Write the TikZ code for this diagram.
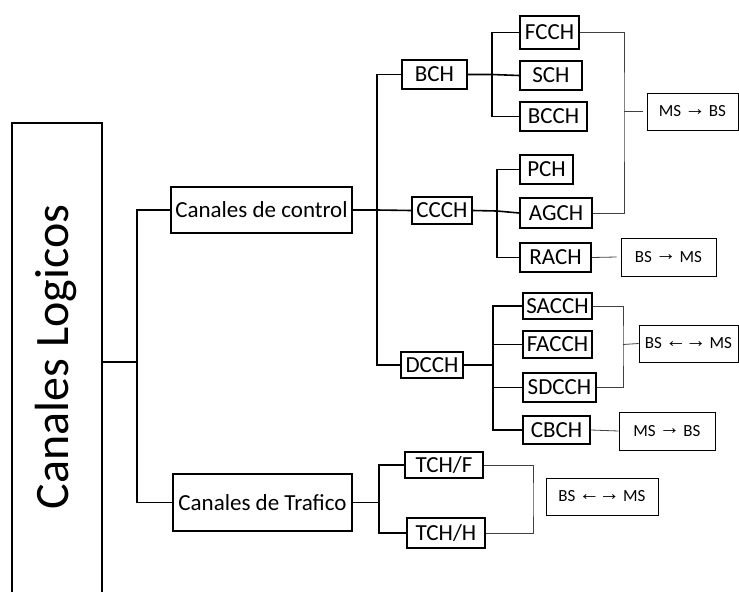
\documentclass[tikz,border=0pt]{standalone}
\usepackage{fontspec}
\setmainfont{Carlito}
\newfontfamily\arrowfont{Liberation Sans}
\newcommand{\rarr}{\kern-0.5pt\raisebox{1.5pt}{\arrowfont\bfseries\fontsize{21}{21}\selectfont\symbol{"2192}}\kern-0.5pt}
\newcommand{\larr}{\kern-0.5pt\raisebox{1.5pt}{\arrowfont\bfseries\fontsize{21}{21}\selectfont\symbol{"2190}}\kern-0.5pt}
\tikzset{
    chan/.style={draw, line width=1.6pt, inner sep=0pt, font=\fontsize{23}{25}\selectfont},
    info/.style={draw, line width=0.8pt, inner sep=0pt, font=\fontsize{17}{19}\selectfont},
    tree/.style={line width=1.6pt},
    brk/.style={line width=0.8pt, black!75},
}
\begin{document}
\begin{tikzpicture}[x=1pt, y=-1pt]
            \useasboundingbox (0, 0) rectangle (739, 592) ;
            % root
            \draw[tree] (+12, +592) |- (+102, +123) -- (+102, +592) ;
            \draw (+56, +357) node[rotate=90, font=\fontsize{48}{52}\selectfont](logicos){Canales Logicos} ;
            \coordinate (lg) at (+102, +362) ;
            % first level
            \draw (+261.5, +210) node[chan, minimum width=181pt, minimum height=46pt](control){Canales de control} ;
            \draw (+262.5, +502.5) node[chan, minimum width=179pt, minimum height=57pt](trafico){Canales de Trafico} ;
            % second level
            \draw (+434.5, +74.5) node[chan, minimum width=65pt, minimum height=29pt](bch){BCH} ;
            \draw (+442, +210.5) node[chan, minimum width=60pt, minimum height=27pt](ccch){CCCH} ;
            \draw (+432, +365) node[chan, minimum width=62pt, minimum height=26pt](dcch){DCCH} ;
            \draw (+444, +465) node[chan, minimum width=78pt, minimum height=26pt](tchf){TCH/F} ;
            \draw (+446, +533) node[chan, minimum width=78pt, minimum height=30pt](tchh){TCH/H} ;
            % third level
            \draw (+549.5, +32.5) node[chan, minimum width=59pt, minimum height=33pt](fcch){FCCH} ;
            \draw (+551, +75.5) node[chan, minimum width=62pt, minimum height=29pt](sch){SCH} ;
            \draw (+553.5, +116.5) node[chan, minimum width=67pt, minimum height=29pt](bcch){BCCH} ;
            \draw (+546.5, +169.5) node[chan, minimum width=53pt, minimum height=29pt](pch){PCH} ;
            \draw (+556, +213) node[chan, minimum width=72pt, minimum height=30pt](agch){AGCH} ;
            \draw (+555.5, +257.5) node[chan, minimum width=71pt, minimum height=29pt](rach){RACH} ;
            \draw (+557.5, +306) node[chan, minimum width=69pt, minimum height=26pt](sacch){SACCH} ;
            \draw (+557.5, +344.5) node[chan, minimum width=69pt, minimum height=27pt](facch){FACCH} ;
            \draw (+559.5, +387.5) node[chan, minimum width=73pt, minimum height=29pt](sdcch){SDCCH} ;
            \draw (+556.5, +430) node[chan, minimum width=67pt, minimum height=28pt](cbch){CBCH} ;
            % direction
            \draw (+692.5, +111.5) node[info, minimum width=91pt, minimum height=37pt](dirA){MS \rarr\ BS} ;
            \draw (+668.5, +257) node[info, minimum width=95pt, minimum height=38pt](dirB){BS \rarr\ MS} ;
            \draw (+688.5, +343.5) node[info, minimum width=99pt, minimum height=37pt](dirC){BS \larr\rarr\ MS} ;
            \draw (+667, +431) node[info, minimum width=96pt, minimum height=38pt](dirD){MS \rarr\ BS} ;
            \draw (+602, +496.5) node[info, minimum width=112pt, minimum height=37pt](dirE){BS \larr\rarr\ MS} ;
            % junctions
            \coordinate (j0) at (+137, +362) ;
            \coordinate (j1) at (+377, +210) ;
            \coordinate (j2) at (+492, +74.5) ;
            \coordinate (j3) at (+497, +211) ;
            \coordinate (j4) at (+493, +365) ;
            \coordinate (j5) at (+379, +502.5) ;
            \coordinate (b1) at (+624, +111.5) ;
            \coordinate (b2) at (+623, +344.5) ;
            \coordinate (b3) at (+533, +500) ;
            % tree lines
            \draw[tree] (lg) -- (j0) ;
            \draw[tree] (control.west) -| (j0) |- (trafico.west) ;
            \draw[tree] (control.east) -- (j1) -- (ccch.west) ;
            \draw[tree] (bch.west) -| (j1) |- (dcch.west) ;
            \draw[tree] (bch.east) -- (j2) -- (sch.west) ;
            \draw[tree] (fcch.west) -| (j2) |- (bcch.west) ;
            \draw[tree] (ccch.east) -- (j3) -- (agch.west) ;
            \draw[tree] (pch.west) -| (j3) |- (rach.west) ;
            \draw[tree] (dcch.east) -- (j4) ;
            \draw[tree] (sacch.west) -| (j4) |- (cbch.west) ;
            \draw[tree] (facch.west) -| (j4) |- (sdcch.west) ;
            \draw[tree] (trafico.east) -- (j5) ;
            \draw[tree] (tchf.west) -| (j5) |- (tchh.west) ;
            % brackets
            \draw[brk] (fcch.east) -| (b1) |- (agch.east) ;
            \draw[brk] (b1) -- ([xshift=-4pt]dirA.west) ;
            \draw[brk] (rach.east) -- ([xshift=-4pt]dirB.west) ;
            \draw[brk] (sacch.east) -| (b2) |- (sdcch.east) ;
            \draw[brk] (b2) -- (dirC.west) ;
            \draw[brk] (cbch.east) -- (dirD.west) ;
            \draw[brk] (tchf.east) -| (b3) |- (tchh.east) ;
\end{tikzpicture}
\end{document}
